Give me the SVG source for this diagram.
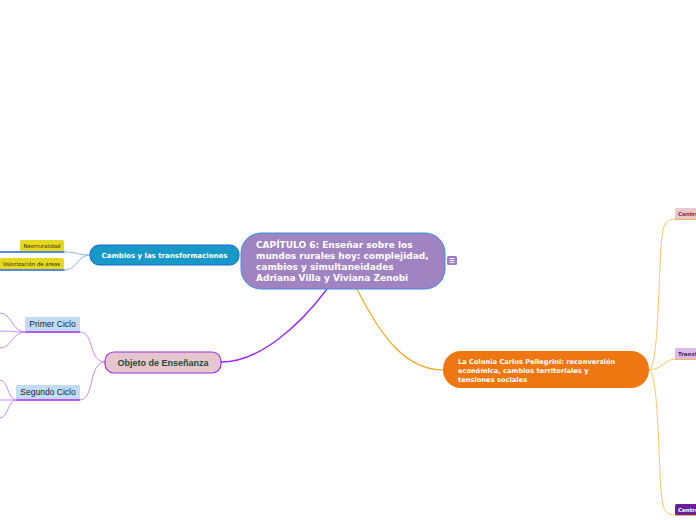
<svg xmlns="http://www.w3.org/2000/svg" width="696" height="520" viewBox="0 0 696 520">
<style>
.c{fill:none;stroke-linecap:round}
.bl{stroke:#8fb6ea;stroke-width:1}
.pu{stroke:#c98cf2;stroke-width:1}
.or{stroke:#ffc466;stroke-width:1}
.t{font-family:"DejaVu Sans",Verdana,sans-serif;font-weight:bold;fill:#fff}
.a{font-family:"Liberation Sans",Arial,sans-serif}
.s{font-family:"DejaVu Sans",Verdana,sans-serif;font-size:5.4px}
.r{font-family:"DejaVu Sans",Verdana,sans-serif;font-size:5.5px;font-weight:bold}
</style>
<rect width="696" height="520" fill="#fff"/>
<g id="connectors">
<path class="c" d="M327,289 C300,325 260,362 221,362" stroke="#9b2ff0" stroke-width="1.5"/>
<path class="c" d="M357,289 C380,335 405,370 443,370" stroke="#f5a623" stroke-width="1.2"/>
<path class="c bl" d="M90,255 C77,255 77,252 65,252"/>
<path class="c bl" d="M90,255 C77,255 77,270 65,270"/>
<path class="c" d="M0,252 L64,252" stroke="#1f62d6" stroke-width="1.5"/>
<path class="c" d="M0,270 L64,270" stroke="#1f62d6" stroke-width="1.5"/>
<path class="c pu" d="M105,362 C88,362 95,332 80,332"/>
<path class="c pu" d="M105,362 C88,362 95,400 80,400"/>
<path d="M25,332 L80,332" stroke="#a020f0" stroke-width="1.5"/>
<path d="M16,400 L80,400" stroke="#a020f0" stroke-width="1.5"/>
<path class="c pu" d="M25,332 C12,332 12,313 0,313"/>
<path class="c pu" d="M25,332 C12,332 12,331 0,331"/>
<path class="c pu" d="M25,332 C12,332 12,348 0,348"/>
<path class="c pu" d="M16,400 C8,400 8,380 0,380"/>
<path class="c pu" d="M16,400 L0,400"/>
<path class="c pu" d="M16,400 C8,400 8,418 0,418"/>
<path class="c or" d="M649,370 C660,370 658,250 663,230 C665,222 668,219 675,219"/>
<path class="c or" d="M649,370 C662,370 665,359 675,359"/>
<path class="c or" d="M649,370 C660,370 658,490 663,505 C665,512 668,515 675,515"/>
<path d="M675,219 L696,219" stroke="#f59a23" stroke-width="1.5"/>
<path d="M675,359 L696,359" stroke="#f59a23" stroke-width="1.5"/>
<path d="M675,515 L696,515" stroke="#f59a23" stroke-width="1.5"/>
</g>
<g id="central">
<rect x="241" y="233" width="204" height="56" rx="20" fill="#a084c1" stroke="#3d8ee0" stroke-width="1"/>
<text class="t" font-size="9"><tspan x="256" y="247.5">CAPÍTULO 6: Enseñar sobre los</tspan><tspan x="256" y="259">mundos rurales hoy: complejidad,</tspan><tspan x="256" y="270.3">cambios y simultaneidades</tspan><tspan x="256" y="281">Adriana Villa y Viviana Zenobi</tspan></text>
</g>
<g id="note-icon">
<rect x="447" y="256" width="10" height="9" rx="1.5" fill="#9b7dc1"/>
<path d="M449.5,258.5h5M449.5,260.5h5M449.5,262.5h5" stroke="#fff" stroke-width="0.9"/>
</g>
<g id="cambios">
<rect x="90" y="245" width="149" height="20" rx="9" fill="#1799c8" stroke="#1f62d6" stroke-width="1"/>
<text class="t" font-size="7" x="164.5" y="258" text-anchor="middle">Cambios y las transformaciones</text>
</g>
<g id="neorruralidad">
<rect x="20" y="240" width="44" height="11" rx="1.5" fill="#e6d81e"/>
<text class="s" x="42" y="248" fill="#2e2e14" text-anchor="middle">Neorruralidad</text>
</g>
<g id="valorizacion">
<rect x="-2" y="258" width="66" height="11" rx="1.5" fill="#e6d81e"/>
<text class="s" x="31.5" y="266" fill="#2e2e14" text-anchor="middle">Valorización de áreas</text>
</g>
<g id="objeto">
<rect x="105" y="352" width="116" height="21" rx="9" fill="#e5c6cc" stroke="#a22ee8" stroke-width="1.2"/>
<text class="a" x="163" y="365.5" font-size="9" font-weight="bold" fill="#1f4a36" text-anchor="middle">Objeto de Enseñanza</text>
</g>
<g id="primer-ciclo">
<rect x="25" y="317" width="55" height="14" rx="1" fill="#c2ddf1"/>
<text class="a" x="52.5" y="327" font-size="8.5" fill="#1b1b2b" text-anchor="middle">Primer Ciclo</text>
</g>
<g id="segundo-ciclo">
<rect x="16" y="385" width="64" height="14" rx="1" fill="#c2ddf1"/>
<text class="a" x="48" y="395" font-size="8.5" fill="#1b1b2b" text-anchor="middle">Segundo Ciclo</text>
</g>
<g id="colonia">
<rect x="443" y="351" width="206" height="37" rx="18" fill="#ee7711"/>
<text class="t" font-size="6.7"><tspan x="458" y="364">La Colonia Carlos Pellegrini: reconversión</tspan><tspan x="458" y="373">económica, cambios territoriales y</tspan><tspan x="458" y="382">tensiones sociales</tspan></text>
</g>
<g id="centro-1">
<rect x="675" y="208" width="30" height="11" rx="1.5" fill="#e8c8cd"/>
<text class="r" x="678" y="216" fill="#6a3a4a">Centro</text>
</g>
<g id="transf">
<rect x="675" y="348" width="30" height="11" rx="1.5" fill="#dabbe8"/>
<text class="r" x="678" y="356" fill="#4a2a5a">Transf</text>
</g>
<g id="centro-2">
<rect x="675" y="504" width="30" height="11" rx="1.5" fill="#6b1e98"/>
<text class="r" x="678" y="512" fill="#fff">Centro</text>
</g>
</svg>
